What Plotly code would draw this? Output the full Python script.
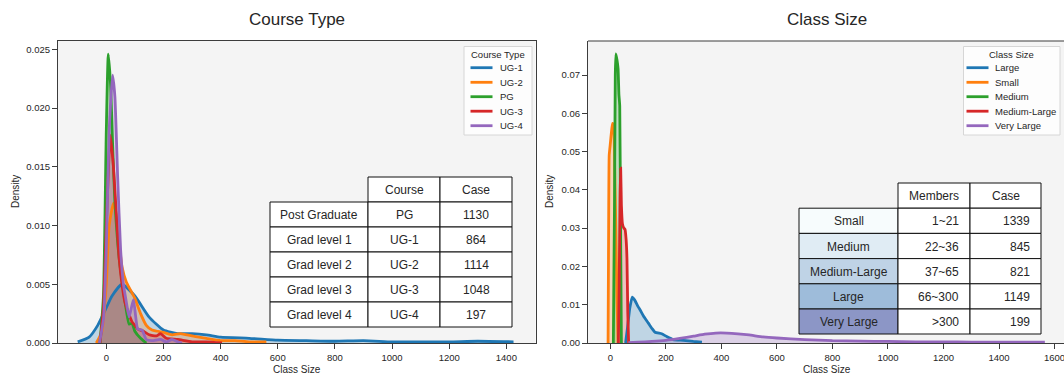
import plotly.graph_objects as go

# ---------------- data ----------------
# Course Type panel: kernel density of class size per course level
course_names = ["UG-1", "UG-2", "PG", "UG-3", "UG-4"]

ug1_x = [-100, -60, -30, 0, 20, 55, 100, 150, 200, 250, 300, 350, 400, 500, 600,
         700, 800, 900, 1000, 1100, 1200, 1300, 1425]
ug1_y = [0.0001, 0.0005, 0.0015, 0.0030, 0.0040, 0.0050, 0.0040, 0.0022, 0.0011,
         0.0008, 0.0008, 0.0007, 0.0005, 0.0004, 0.00025, 0.0002, 0.00015, 0.0002,
         0.0001, 0.0001, 0.0001, 0.00015, 0.0001]

ug2_x = [-35, -15, 0, 10, 25, 35, 45, 55, 70, 85, 100, 120, 140, 160, 180, 200,
         230, 260, 300, 350, 400, 450, 500, 560]
ug2_y = [0, 0.001, 0.005, 0.010, 0.0119, 0.011, 0.0085, 0.0065, 0.0052, 0.0045,
         0.0038, 0.0025, 0.0015, 0.0011, 0.0010, 0.0009, 0.0007, 0.0008, 0.0006,
         0.0004, 0.0002, 0.0002, 0.0001, 0.0001]

pg_x = [-22, -10, 0, 7, 15, 22, 30, 40, 50, 60, 70, 80, 90, 100, 120, 140]
pg_y = [0, 0.004, 0.018, 0.0246, 0.022, 0.017, 0.012, 0.0085, 0.0062, 0.0045,
        0.0028, 0.0016, 0.0017, 0.0010, 0.0004, 0]

ug3_x = [-22, -10, 0, 14, 25, 35, 45, 55, 65, 80, 90, 100, 110, 130, 150, 175,
         190, 210, 250, 300, 350, 405]
ug3_y = [0, 0.003, 0.010, 0.0177, 0.015, 0.011, 0.0072, 0.005, 0.0035, 0.0024,
         0.0018, 0.0015, 0.0012, 0.0010, 0.0007, 0.0006, 0.0008, 0.0004, 0.0003,
         0.0001, 0.0001, 0]

ug4_x = [-24, -10, 0, 10, 22, 30, 40, 50, 60, 70, 80, 95, 110, 125, 140, 160, 190,
         210, 230, 250, 265]
ug4_y = [0, 0.002, 0.008, 0.018, 0.0228, 0.021, 0.014, 0.008, 0.005, 0.0035,
         0.0022, 0.0037, 0.0012, 0.0011, 0.0003, 0.0002, 0.0003, 0.0001, 0.0003,
         0.0001, 0]

# Class Size panel: kernel density of class size per size band
size_names = ["Large", "Small", "Medium", "Medium-Large", "Very Large"]

large_x = [55, 62, 70, 79, 88, 100, 107, 120, 137, 150, 161, 185, 203, 227, 263, 299, 330]
large_y = [0, 0.004, 0.009, 0.012, 0.0112, 0.0095, 0.0087, 0.007, 0.0052, 0.0038,
           0.0028, 0.0024, 0.0017, 0.0009, 0.0007, 0.0004, 0.0002]

small_x = [-8, -6, -4, 0, 4, 8, 12, 16, 20, 24, 28]
small_y = [0, 0.03, 0.049, 0.052, 0.055, 0.0574, 0.057, 0.045, 0.03, 0.012, 0]

medium_x = [11, 15, 18, 20, 24, 28, 31, 34, 37, 40]
medium_y = [0, 0.035, 0.07, 0.0755, 0.074, 0.0717, 0.065, 0.062, 0.03, 0]

medlarge_x = [29, 32, 35, 37.4, 40, 44, 49, 53, 57, 60, 63, 66]
medlarge_y = [0, 0.015, 0.038, 0.0457, 0.036, 0.031, 0.030, 0.0297, 0.027, 0.022,
              0.008, 0]

vlarge_x = [65, 100, 150, 200, 250, 300, 340, 380, 420, 460, 500, 550, 600, 700,
            800, 900, 1000, 1100, 1200, 1300, 1400, 1500, 1565]
vlarge_y = [0.0001, 0.0002, 0.0004, 0.0007, 0.0012, 0.0018, 0.0023, 0.0026, 0.0026,
            0.0024, 0.0021, 0.0016, 0.0013, 0.0009, 0.0006, 0.0005, 0.0004, 0.0003,
            0.0003, 0.00025, 0.0002, 0.0002, 0.0002]

# summary tables
course_labels = ["Post Graduate", "Grad level 1", "Grad level 2", "Grad level 3", "Grad level 4"]
course_codes = ["PG", "UG-1", "UG-2", "UG-3", "UG-4"]
course_cases = [1130, 864, 1114, 1048, 197]

size_labels = ["Small", "Medium", "Medium-Large", "Large", "Very Large"]
size_members = ["1~21", "22~36", "37~65", "66~300", ">300"]
size_cases = [1339, 845, 821, 1149, 199]

# ---------------- style ----------------
palette = ["#1f77b4", "#ff7f0e", "#2ca02c", "#d62728", "#9467bd"]
bupu = ["#f7fcfd", "#e0ecf4", "#bfd3e6", "#9ebcda", "#8c96c6"]
FONT = "Liberation Sans, Arial, sans-serif"
TXT = "#262626"
AX = "#3c3c3c"
BG = "#f4f4f4"

W, H = 1064, 374
ML, MR, MT, MB = 58, 0, 41, 31
PW, PH = W - ML - MR, H - MT - MB


def px(x):
    return (x - ML) / PW


def py(y):
    return (MT + PH - y) / PH


def rgba(hex_color, a):
    h = hex_color.lstrip("#")
    r, g, b = int(h[0:2], 16), int(h[2:4], 16), int(h[4:6], 16)
    return f"rgba({r},{g},{b},{a})"


fig = go.Figure()

course_series = [(ug1_x, ug1_y), (ug2_x, ug2_y), (pg_x, pg_y), (ug3_x, ug3_y), (ug4_x, ug4_y)]
size_series = [(large_x, large_y), (small_x, small_y), (medium_x, medium_y),
               (medlarge_x, medlarge_y), (vlarge_x, vlarge_y)]


def add_kde_panel(names, series, xa, ya, smoothing):
    # shaded areas go underneath, density lines on top of every shade
    for name, (xs, ys), col in zip(names, series, palette):
        fig.add_trace(go.Scatter(
            x=xs, y=ys, name=name, mode="lines", xaxis=xa, yaxis=ya,
            line=dict(color=col, width=0, shape="spline", smoothing=smoothing),
            fill="tozeroy", fillcolor=rgba(col, 0.25), showlegend=False, hoverinfo="skip"))
    for name, (xs, ys), col in zip(names, series, palette):
        fig.add_trace(go.Scatter(
            x=xs, y=ys, name=name, mode="lines", xaxis=xa, yaxis=ya,
            line=dict(color=col, width=2.8, shape="spline", smoothing=smoothing),
            showlegend=False))


add_kde_panel(course_names, course_series, "x", "y", 0.5)
add_kde_panel(size_names, size_series, "x2", "y2", 0.4)

axis_common = dict(
    showgrid=False, zeroline=False, showline=True, linecolor=AX, linewidth=1.2,
    ticks="outside", ticklen=5, tickwidth=1, tickcolor=AX, ticklabeloverflow="allow",
    tickfont=dict(family=FONT, size=9.5, color=TXT))

left_end = px(535.5)
right_start = px(588)

fig.update_layout(
    width=W, height=H,
    margin=dict(l=ML, r=MR, t=MT, b=MB),
    paper_bgcolor="white", plot_bgcolor=BG,
    font=dict(family=FONT, color=TXT),
    xaxis=dict(domain=[0, left_end], range=[-169, 1502], tickvals=list(range(0, 1401, 200)),
               mirror=True, anchor="y", **axis_common),
    yaxis=dict(domain=[0, 1], range=[0, 0.02571], tickvals=[0, 0.005, 0.01, 0.015, 0.02, 0.025],
               tickformat=".3f", mirror=True, anchor="x", **axis_common),
    xaxis2=dict(domain=[right_start, 1], range=[-80.3, 1634], tickvals=list(range(0, 1601, 200)),
                anchor="y2", **axis_common),
    yaxis2=dict(domain=[0, 1], range=[0, 0.0789], tickvals=[0, 0.01, 0.02, 0.03, 0.04, 0.05, 0.06, 0.07],
                tickformat=".2f", anchor="x2", **axis_common),
)

shapes = []
annotations = []

# top border of the right panel (its right edge runs past the page)
shapes.append(dict(type="line", xref="paper", yref="paper", x0=right_start, x1=1, y0=1, y1=1,
                   line=dict(color=AX, width=1.2), layer="above"))


def text(x, y, s, size, xanchor="center", yanchor="middle", angle=0):
    annotations.append(dict(
        xref="paper", yref="paper", x=px(x), y=py(y), text=s, showarrow=False,
        xanchor=xanchor, yanchor=yanchor, textangle=angle,
        font=dict(family=FONT, size=size, color=TXT)))


# titles and axis labels
text(297, 19, "Course Type", 17)
text(827, 19, "Class Size", 17)
text(297, 370, "Class Size", 10)
text(827, 370, "Class Size", 10)
text(15, 192, "Density", 10, angle=-90)
text(549, 192, "Density", 10, angle=-90)


# legends
def legend(x0, x1, y0, y1, title, names, line_x0, line_x1, text_x):
    shapes.append(dict(type="rect", xref="paper", yref="paper",
                       x0=px(x0), x1=px(x1), y0=py(y0), y1=py(y1),
                       fillcolor="rgba(255,255,255,0.8)", line=dict(color="#d6d6d6", width=1),
                       layer="above"))
    text((x0 + x1) / 2, 54.5, title, 9.5)
    item_y = [67.7, 82.3, 96.7, 111.2, 125.7]
    for name, col, yy in zip(names, palette, item_y):
        shapes.append(dict(type="line", xref="paper", yref="paper",
                           x0=px(line_x0), x1=px(line_x1), y0=py(yy), y1=py(yy),
                           line=dict(color=col, width=2.8), layer="above"))
        text(text_x, yy, name, 9.5, xanchor="left")


legend(464, 532, 46.5, 135, "Course Type", course_names, 470.5, 492.5, 498)
legend(963.5, 1060, 46.5, 135, "Class Size", size_names, 966.5, 988.5, 993)


# tables
def cell(x0, x1, y0, y1, fill):
    shapes.append(dict(type="rect", xref="paper", yref="paper",
                       x0=px(x0), x1=px(x1), y0=py(y0), y1=py(y1),
                       fillcolor=fill, line=dict(color="#111111", width=1), layer="above"))


def table(col_edges, row_edges, header, columns, fills, aligns):
    # header (no cell above the row labels)
    for j, h in enumerate(header):
        c0, c1 = col_edges[j + 1], col_edges[j + 2]
        cell(c0, c1, row_edges[0], row_edges[1], "white")
        text((c0 + c1) / 2, (row_edges[0] + row_edges[1]) / 2 + 0.5, h, 12)
    n_rows = len(columns[0])
    for i in range(n_rows):
        r0, r1 = row_edges[i + 1], row_edges[i + 2]
        for j, col_vals in enumerate(columns):
            c0, c1 = col_edges[j], col_edges[j + 1]
            fill = fills[i] if j == 0 else "white"
            cell(c0, c1, r0, r1, fill)
            ym = (r0 + r1) / 2 + 0.5
            if aligns[j] == "right":
                text(c1 - 9, ym, str(col_vals[i]), 12, xanchor="right")
            else:
                text((c0 + c1) / 2, ym, str(col_vals[i]), 12)


table([270, 368, 440, 512], [177, 202, 227, 252, 277, 302, 327],
      ["Course", "Case"], [course_labels, course_codes, course_cases],
      ["white"] * 5, ["center", "center", "center"])

table([799, 898, 970, 1041], [183, 208.2, 233.4, 258.6, 283.8, 309, 334],
      ["Members", "Case"], [size_labels, size_members, size_cases],
      bupu, ["center", "right", "right"])

fig.update_layout(shapes=shapes, annotations=annotations)

fig.write_html("out.html")
